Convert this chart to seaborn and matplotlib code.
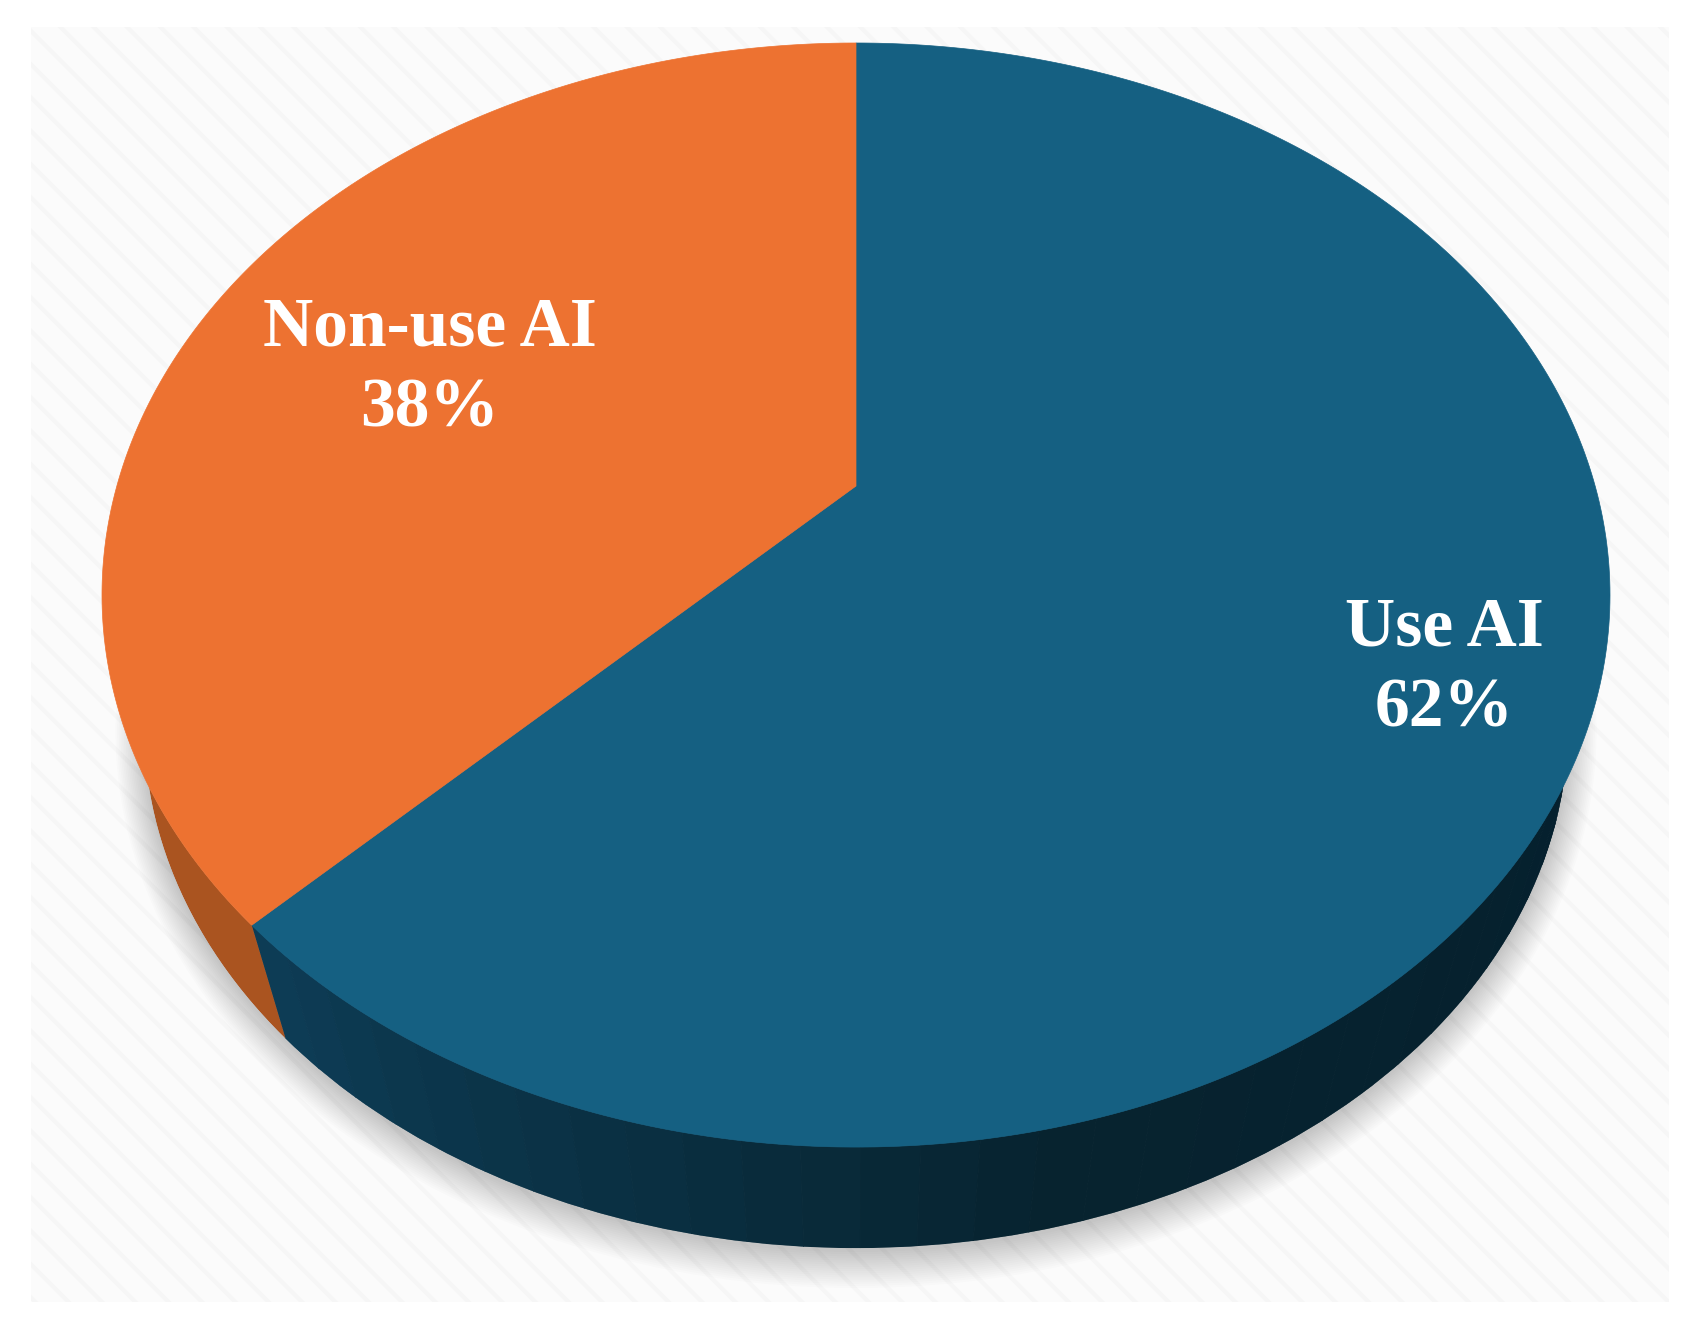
import numpy as np
import matplotlib
matplotlib.use("Agg")
import matplotlib.pyplot as plt
from matplotlib.patches import Ellipse, Polygon, Rectangle
import seaborn as sns

categories = ["Use AI", "Non-use AI"]
# slice sizes, the labels round them to 62 and 38
shares = [62.4, 37.6]
top_colors = ["#156082", "#ED7231"]

W, H = 1694, 1326
# ellipse of the top face and of the lower rim, in image pixels
CX, CY, RX, RY = 856, 595, 754, 552
BOTTOM_CY, BOTTOM_SCALE = 727, 0.944
# perspective: the centre of the pie sits above the centre of the ellipse
K = 0.1975
A = RX * np.sqrt(1 - K ** 2)
B = 530.5
APEX_Y = 486


def project(theta):
    t = np.radians(theta)
    x, y = np.cos(t), np.sin(t)
    w = 1 + K * y
    return CX + A * x / w, APEX_Y - B * y / w


def wall_polygon(t1, t2, n):
    upper = np.array([project(t) for t in np.linspace(t1, t2, n)])
    low = np.column_stack([CX + (upper[:, 0] - CX) * BOTTOM_SCALE,
                           BOTTOM_CY + (upper[:, 1] - CY) * BOTTOM_SCALE])
    return np.vstack([upper, low[::-1]])


sns.set_theme(style="white")
plt.rcParams["font.family"] = ["Liberation Serif", "DejaVu Serif"]
plt.rcParams["hatch.linewidth"] = 3.0

fig = plt.figure(figsize=(W / 100, H / 100), dpi=100, facecolor="white")
ax = fig.add_axes([0, 0, 1, 1])

# pie only works out the angles, the faces get redrawn in perspective below
wedges, _ = ax.pie(shares, startangle=90 + shares[1] * 3.6, frame=True, colors=top_colors)
angles = [(w.theta1, w.theta2) for w in wedges]
for w in wedges:
    w.remove()

ax.set_xlim(0, W)
ax.set_ylim(H, 0)
ax.set_aspect("auto")
ax.axis("off")

# patterned backdrop
ax.add_patch(Rectangle((31, 27), 1638, 1275, facecolor="#FBFBFB", edgecolor="#F6F6F6",
                       hatch="\\", lw=0, zorder=0))

# soft shadow under the disc
for d in np.linspace(0, 36, 18):
    ax.add_patch(Ellipse((CX, BOTTOM_CY + 4), 2 * (RX * BOTTOM_SCALE + d * 0.8), 2 * (RY * BOTTOM_SCALE + d),
                         facecolor="black", alpha=0.012, edgecolor="none", zorder=1))

# the wall stops at the lower rim, no straight tangent at the sides
rim_clip = Ellipse((CX, BOTTOM_CY), 2 * RX * BOTTOM_SCALE, 2 * RY * BOTTOM_SCALE,
                   facecolor="none", edgecolor="none", zorder=1)
ax.add_patch(rim_clip)

# side wall, dark blue shading towards the front
blue_start, blue_end = angles[0]
wall_blue = sns.blend_palette(["#0D3C55", "#07232F", "#05202E", "#05202E", "#05202E"], 60)
edges = np.linspace(blue_start, blue_end, 61)
for i in range(60):
    p = ax.add_patch(Polygon(wall_polygon(edges[i], edges[i + 1], 5), facecolor=wall_blue[i],
                             edgecolor=wall_blue[i], lw=0.6, zorder=2))
    p.set_clip_path(rim_clip)
p = ax.add_patch(Polygon(wall_polygon(150, blue_start, 80), facecolor="#AA5420", edgecolor="none", zorder=2))
p.set_clip_path(rim_clip)

# top faces
apex = (CX, APEX_Y)
for (t1, t2), color in zip(angles, top_colors):
    rim = [project(t) for t in np.linspace(t1, t2, 300)]
    ax.add_patch(Polygon([apex] + rim, closed=True, facecolor=color, edgecolor=color, lw=0.5, zorder=3))

label_xy = [(1444, 669), (430, 369)]
for cat, share, (x, y) in zip(categories, shares, label_xy):
    ax.text(x, y, f"{cat}\n{share:.0f}%", color="white", fontsize=50, fontweight="bold",
            ha="center", va="center", linespacing=1.36, zorder=4)

fig.savefig("out.png", dpi=100)
